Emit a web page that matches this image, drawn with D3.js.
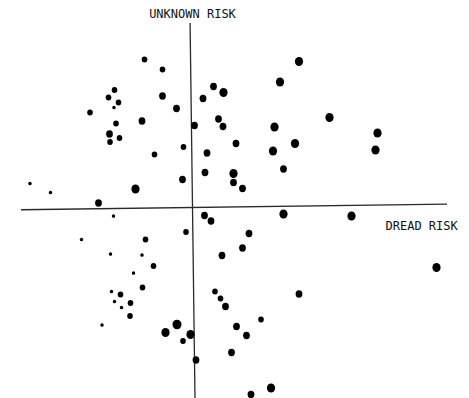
<!DOCTYPE html>
<html>
<head>
<meta charset="utf-8">
<script src="https://cdn.jsdelivr.net/npm/d3@7"></script>
<style>
  body { margin: 0; background: #fff; }
  svg { display: block; }
  .axis-line { stroke: #2a2a2a; stroke-width: 1.3; fill: none; }
  .axis-label { font-family: "DejaVu Sans Mono", monospace; font-size: 12px; fill: #111; }
  .dot { fill: #000; }
</style>
</head>
<body>
<svg id="chart" width="469" height="398"></svg>
<script>
// factor scores of the hazards: dread risk (x) vs unknown risk (y)
var dread = [
  -0.96, -0.60, -1.56, -1.68, -1.48, -1.57, -2.05, -0.60, -0.32, -1.53,
  -1.01, -1.66, -1.46, -1.65, -0.18, -0.76, -0.20, -1.14, -3.25, -2.84,
  -1.88,  0.42,  0.62,  0.21,  0.52,  0.61,  0.04,  0.29,  0.25,  0.87,
   0.82,  0.82,  1.00,  2.13,  1.75,  2.74,  1.64,  3.70,  2.05,  1.61,
   3.66,  1.82,  0.24,  0.37,  1.82,  3.18,  1.13,  1.00,  0.59,  4.88,
   2.13,  0.45,  0.56,  0.66,  1.37,  0.88,  1.08,  0.78,  0.07,  1.57,
   1.17, -1.58, -0.13, -2.22, -0.94, -1.64, -1.01, -0.78, -1.18, -1.00,
  -1.62, -1.44, -1.56, -1.24, -1.42, -1.25, -1.81, -0.31, -0.54, -0.04,
  -0.19
];
var unknown = [
   2.96,  2.76,  2.35,  2.20,  2.10,  2.00,  1.90,  2.23,  1.98,  1.68,
   1.73,  1.47,  1.39,  1.31,  1.21,  1.06,  0.56,  0.37,  0.48,  0.30,
   0.09,  2.42,  2.30,  2.18,  1.77,  1.62,  1.64,  1.09,  0.70,  1.28,
   0.68,  0.50,  0.38,  2.92,  2.51,  1.80,  1.61,  1.49,  1.28,  1.13,
   1.15,  0.77, -0.16, -0.27, -0.13, -0.17, -0.52, -0.81, -0.96, -1.20,
  -1.73, -1.68, -1.82, -1.98, -2.24, -2.38, -2.56, -2.90, -3.05, -3.61,
  -3.74, -0.17, -0.49, -0.64, -0.64, -0.93, -0.95, -1.17, -1.31, -1.60,
  -1.68, -1.74, -1.88, -1.91, -2.00, -2.17, -2.35, -2.34, -2.50, -2.54,
  -2.67
];
// dot size class (1 = smallest)
var sizeClass = [
  2, 2, 2, 2, 2, 1, 2, 3, 3, 2,
  3, 3, 2, 2, 2, 2, 3, 4, 1, 1,
  3, 3, 4, 3, 3, 3, 3, 3, 3, 3,
  4, 3, 3, 4, 4, 4, 4, 4, 4, 4,
  4, 3, 3, 3, 4, 4, 3, 3, 3, 4,
  3, 2, 2, 3, 2, 3, 3, 3, 3, 4,
  3, 1, 2, 1, 2, 1, 1, 2, 1, 2,
  1, 2, 1, 2, 1, 2, 1, 5, 4, 4,
  2
];
var xExtent = [-3.43, 5.09];
var yExtent = [-3.81, 3.69];
var xLabel = "DREAD RISK";
var yLabel = "UNKNOWN RISK";

var svg = d3.select("#chart");

// 50px per unit, origin near the middle of the sheet
var x = d3.scaleLinear().domain(xExtent).range([21, 447]);
var y = d3.scaleLinear().domain(yExtent).range([398, 23]);
var r = d3.scaleOrdinal().domain([1, 2, 3, 4, 5]).range([1.7, 2.8, 3.4, 4.1, 4.5]);

var data = dread.map(function (d, i) {
  return { x: d, y: unknown[i], s: sizeClass[i] };
});

// axes cross at 0,0; the scanned sheet is slightly skewed
var ax = svg.append("g")
  .attr("transform", "rotate(-0.75," + x(0) + "," + y(0) + ")");

ax.append("line")
  .attr("class", "axis-line")
  .attr("x1", x(xExtent[0])).attr("x2", x(xExtent[1]))
  .attr("y1", y(0)).attr("y2", y(0));

ax.append("line")
  .attr("class", "axis-line")
  .attr("x1", x(0)).attr("x2", x(0))
  .attr("y1", y(yExtent[0])).attr("y2", y(yExtent[1]));

svg.append("text")
  .attr("class", "axis-label")
  .attr("x", x(0))
  .attr("y", 17.5)
  .attr("text-anchor", "middle")
  .text(yLabel);

svg.append("text")
  .attr("class", "axis-label")
  .attr("x", x(3.86))
  .attr("y", y(0) + 22.5)
  .text(xLabel);

// printed dots come out a touch taller than wide
svg.selectAll(".dot")
  .data(data)
  .enter().append("ellipse")
  .attr("class", "dot")
  .attr("cx", function (d) { return x(d.x); })
  .attr("cy", function (d) { return y(d.y); })
  .attr("rx", function (d) { return r(d.s); })
  .attr("ry", function (d) { return r(d.s) * 1.08; });
</script>
</body>
</html>
